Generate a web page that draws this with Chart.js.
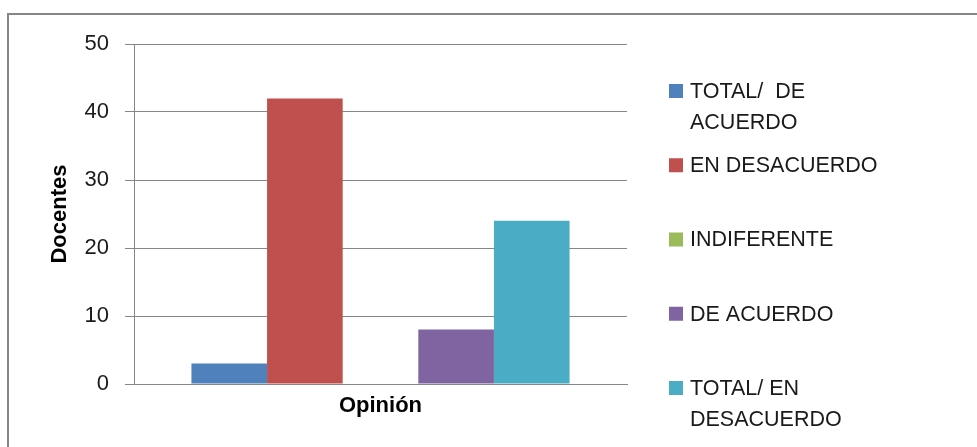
<!DOCTYPE html>
<html>
<head>
<meta charset="utf-8">
<script src="https://cdn.jsdelivr.net/npm/chart.js@4"></script>
<style>
  html, body { margin: 0; padding: 0; background: #ffffff; }
  #wrap { width: 977px; height: 447px; position: relative; }
</style>
</head>
<body>
<div id="wrap"><canvas id="c" width="977" height="447"></canvas></div>
<script>
// Survey answers from teachers, one group on the x axis
const categories = ['Opinión'];
const seriesNames = [
  ['TOTAL/  DE', 'ACUERDO'],
  ['EN DESACUERDO'],
  ['INDIFERENTE'],
  ['DE ACUERDO'],
  ['TOTAL/ EN', 'DESACUERDO']
];
const totalDeAcuerdo = [3];
const enDesacuerdo = [42];
const indiferente = [0];
const deAcuerdo = [8];
const totalEnDesacuerdo = [24];
const yTicks = [0, 10, 20, 30, 40, 50];

const seriesValues = [totalDeAcuerdo, enDesacuerdo, indiferente, deAcuerdo, totalEnDesacuerdo];
const colors = ['#4F81BD', '#C0504D', '#9BBB59', '#8064A2', '#4BACC6'];

const FONT = '"Liberation Sans", Arial, sans-serif';

// Outer frame of the chart (top and left edges)
const framePlugin = {
  id: 'frame',
  beforeDraw(chart) {
    const ctx = chart.ctx;
    ctx.save();
    ctx.fillStyle = '#ffffff';
    ctx.fillRect(0, 0, chart.width, chart.height);
    ctx.strokeStyle = '#868686';
    ctx.lineWidth = 2;
    ctx.beginPath();
    ctx.moveTo(8, chart.height);
    ctx.lineTo(8, 14);
    ctx.lineTo(chart.width, 14);
    ctx.stroke();
    ctx.restore();
  }
};

// Legend on the right, with wrapped labels
const legendPlugin = {
  id: 'sideLegend',
  afterDraw(chart) {
    const ctx = chart.ctx;
    const x0 = 669, box = 14, textX = 690;
    const firstY = 91, step = 74.25, lineH = 31;
    ctx.save();
    ctx.font = '21.5px ' + FONT;
    ctx.textBaseline = 'middle';
    ctx.textAlign = 'left';
    chart.data.datasets.forEach((ds, i) => {
      const y = firstY + i * step;
      ctx.fillStyle = ds.backgroundColor;
      ctx.fillRect(x0, y - box / 2, box, box);
      ctx.fillStyle = '#1a1a1a';
      ds.legendLines.forEach((line, k) => {
        ctx.fillText(line, textX, y + 1 + k * lineH);
      });
    });
    ctx.restore();
  }
};

new Chart(document.getElementById('c'), {
  type: 'bar',
  data: {
    labels: categories,
    datasets: seriesValues.map((vals, i) => ({
      label: seriesNames[i].join(' '),
      legendLines: seriesNames[i],
      data: vals,
      backgroundColor: colors[i],
      borderWidth: 0
    }))
  },
  options: {
    responsive: false,
    animation: false,
    events: [],
    layout: { padding: { left: 0, right: 350, top: 44, bottom: 0 } },
    datasets: { bar: { categoryPercentage: 0.767, barPercentage: 1.0 } },
    plugins: { legend: { display: false }, tooltip: { enabled: false } },
    scales: {
      x: {
        grid: { display: false, drawTicks: false },
        border: { display: true, color: '#868686', width: 1 },
        ticks: { display: false },
        title: {
          display: true,
          text: 'Opinión',
          color: '#000000',
          font: { family: FONT, size: 22, weight: 'bold' },
          padding: { top: 0, bottom: 28 }
        },
        afterFit(scale) { scale.height = 63; }
      },
      y: {
        min: 0,
        max: 50,
        afterBuildTicks(scale) { scale.ticks = yTicks.map(v => ({ value: v })); },
        grid: { color: '#868686', lineWidth: 1, tickLength: 9, drawTicks: true },
        border: { display: true, color: '#868686', width: 1 },
        ticks: {
          color: '#1a1a1a',
          padding: 16,
          font: { family: FONT, size: 22 }
        },
        title: {
          display: true,
          text: 'Docentes',
          color: '#000000',
          font: { family: FONT, size: 22, weight: 'bold' },
          padding: { top: 47, bottom: 0 }
        },
        afterFit(scale) { scale.width = 134; }
      }
    }
  },
  plugins: [framePlugin, legendPlugin]
});
</script>
</body>
</html>
